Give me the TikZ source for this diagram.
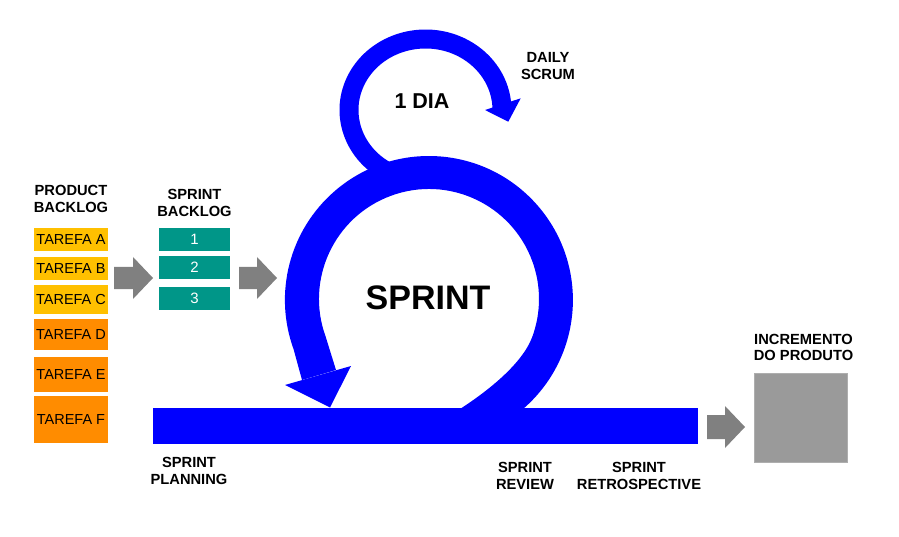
\documentclass[tikz,border=0pt]{standalone}
\usepackage{fontspec}
\setmainfont{Liberation Sans}
\definecolor{sblue}{RGB}{0,0,255}
\definecolor{yel}{RGB}{255,192,0}
\definecolor{org}{RGB}{255,140,0}
\definecolor{teal2}{RGB}{0,150,136}
\definecolor{garrow}{RGB}{128,128,128}
\definecolor{gsq}{RGB}{154,154,154}
\begin{document}
\begin{tikzpicture}[x=1pt,y=-1pt,
  lbl/.style={font=\fontsize{14.7}{16.5}\selectfont\bfseries, align=center, inner sep=0pt, text=black},
  task/.style={font=\fontsize{14.5}{16}\selectfont, inner sep=0pt, minimum width=74pt, text=black},
  sb/.style={fill=teal2, font=\fontsize{15}{16}\selectfont, text=white, inner sep=0pt, minimum width=71pt, minimum height=23pt},
  band/.style={draw=sblue, line cap=butt, line join=round},
  blk/.style={fill=garrow}]
\useasboundingbox (0,0) rectangle (899,537);

% product backlog
\node[lbl] (pbl) at (71,199) {PRODUCT\\BACKLOG};
\node[task, fill=yel, minimum height=23pt] (ta) at (71,239.5) {TAREFA A};
\node[task, fill=yel, minimum height=23pt] (tb) at (71,268.5) {TAREFA B};
\node[task, fill=yel, minimum height=29pt] (tc) at (71,299.5) {TAREFA C};
\node[task, fill=org, minimum height=31pt] (td) at (71,334.5) {TAREFA D};
\node[task, fill=org, minimum height=35pt] (te) at (71,374.5) {TAREFA E};
\node[task, fill=org, minimum height=47pt] (tf) at (71,419.5) {TAREFA F};

% sprint backlog
\node[lbl] (sbl) at (194.5,203) {SPRINT\\BACKLOG};
\node[sb] (s1) at (194.5,239.5) {1};
\node[sb] (s2) at (194.5,267.5) {2};
\node[sb] (s3) at (194.5,298.5) {3};

% gray block arrows
\fill[blk] (114,267) -- (133,267) -- (133,257) -- (153,278) -- (133,299) -- (133,289) -- (114,289) -- cycle;
\fill[blk] (239,267) -- (257,267) -- (257,257) -- (277,278) -- (257,299) -- (257,289) -- (239,289) -- cycle;
\fill[blk] (707,415) -- (725,415) -- (725,406) -- (745,427) -- (725,448) -- (725,439) -- (707,439) -- cycle;

% daily scrum loop
\draw[band, line width=19pt] (425.5,110) ++(120:76.5 and 71) arc[start angle=120, end angle=358, x radius=76.5, y radius=71];
\fill[sblue] (485,110) -- (520.7,98.3) -- (508.3,121.7) -- cycle;

% sprint loop (filled band)
\fill[sblue] (460,409) -- (523,409)
   arc[start angle=49.2, end angle=-200, radius=144]
   -- (302,380) -- (336,370) -- (325.63,336.62)
   arc[start angle=-200, end angle=20, radius=110]
   .. controls (522.1,364.8) and (485.2,392.7) .. (460,409) -- cycle;
\fill[sblue] (285,385) -- (351,366) -- (330,407.5) -- cycle;

% bar
\fill[sblue] (153,408) rectangle (698,444);

% increment square
\node[fill=gsq, draw=gsq!80!white, line width=0.6pt, minimum width=93pt, minimum height=89pt, inner sep=0pt] (inc) at (801,417.5) {};

% labels
\node[font=\fontsize{34}{36}\selectfont\bfseries, inner sep=0pt] (spr) at (428,298) {SPRINT};
\node[font=\fontsize{21.5}{24}\selectfont\bfseries, inner sep=0pt] (dia) at (422,101.5) {1 DIA};
\node[lbl] (daily) at (548,66) {DAILY\\SCRUM};
\node[lbl] (plan) at (189,471) {SPRINT\\PLANNING};
\node[lbl] (rev) at (525,476) {SPRINT\\REVIEW};
\node[lbl] (retro) at (639,476) {SPRINT\\RETROSPECTIVE};
\node[lbl] (incl) at (803.5,347.5) {INCREMENTO\\DO PRODUTO};
\end{tikzpicture}
\end{document}
